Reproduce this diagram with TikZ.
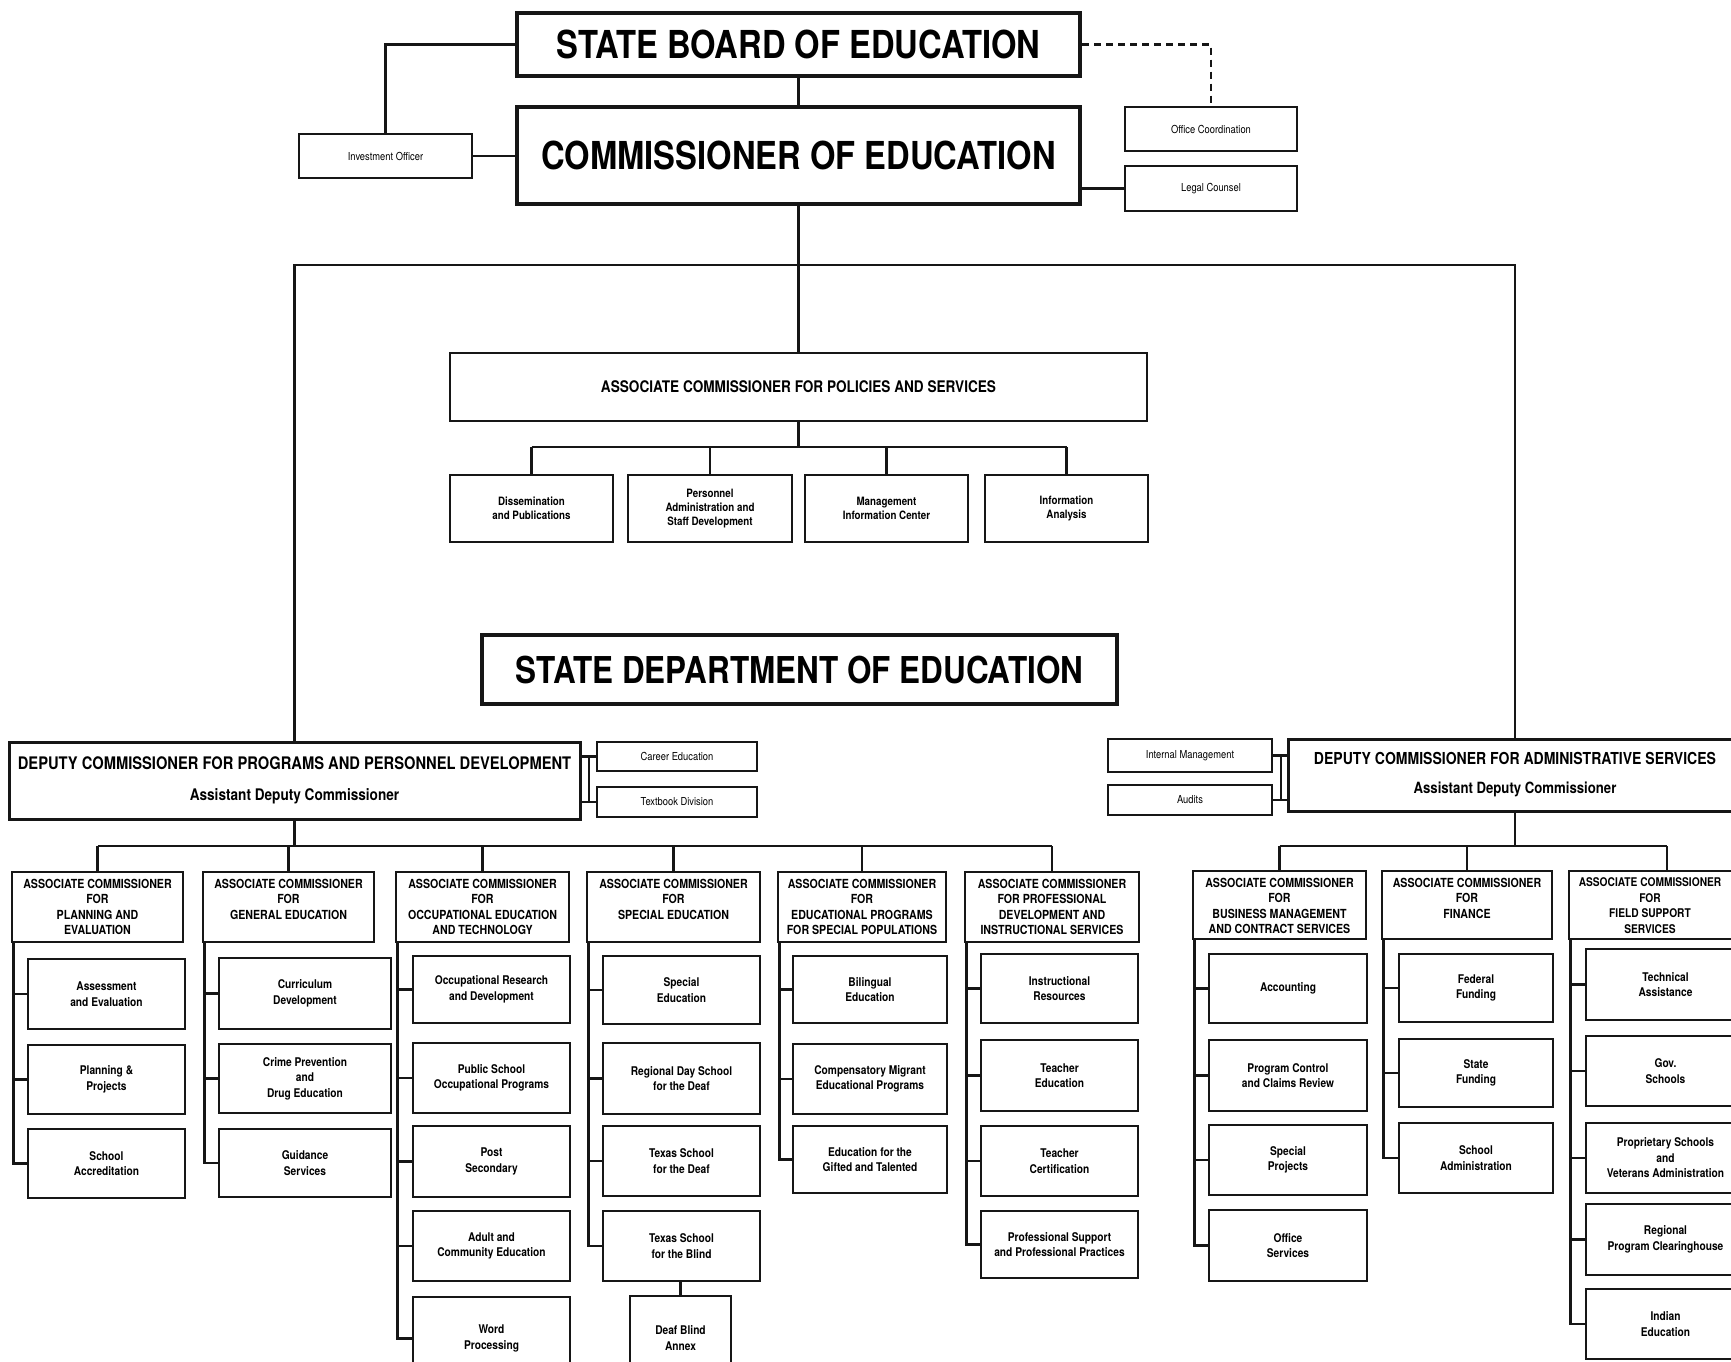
\documentclass[tikz,border=0pt]{standalone}
\usepackage{fontspec}
\setmainfont{TeX Gyre Heros}[FakeStretch=0.85]
\definecolor{ink}{RGB}{22,22,22}
\newcommand\fs[2]{\fontsize{#1}{#2}\selectfont}
% box from its corners: [style]{name}{x1}{y1}{x2}{y2}{text}
\newcommand\orgbox[7][]{\node[box,#1,minimum width={#5-#3},minimum height={#6-#4}] (#2) at ({(#3+#5)/2},{(#4+#6)/2}) {#7};}
% division header: [text options]{name}{x1}{x2}{y1}{y2}{text}, text set at the top
\newcommand\divhead[7][]{\orgbox{#2}{#3}{#5}{#4}{#6}{}\node[headtxt,anchor=north,#1] (#2t) at ([yshift=-8pt]#2.north) {#7};}
% rail down the left side of a column with a stub to each unit
\newcommand\rails[3]{%
  \path ([xshift=3pt]#1.south west) coordinate (#1r);
  \draw[conn] (#1r) -- (#1r |- #2.west) -- (#2.west);
  \foreach \c in {#3}{\draw[conn] (#1r |- \c.west) -- (\c.west);}}
\begin{document}
\begin{tikzpicture}[x=1pt,y=-1pt,
  box/.style={draw=ink, line width=2.8pt, rectangle, inner sep=1pt, align=center,
    font=\bfseries\fs{12}{15.5}},
  title/.style={line width=4pt, font=\bfseries\fs{38.5}{40}},
  side/.style={line width=2.4pt, font=\fs{11}{13}},
  unit/.style={font=\bfseries\fs{11.5}{14}},
  deputy/.style={line width=3pt},
  headtxt/.style={inner sep=0pt, align=center, font=\bfseries\fs{12.5}{15.5}},
  conn/.style={draw=ink, line width=2.6pt, line join=miter},
]
\useasboundingbox (0,0) rectangle (1731,1361);
\fill[white] (0,0) rectangle (1731,1361);
\clip (0,0) rectangle (1731,1361);

% ---- board and commissioner
\orgbox[title]{sb}{517}{13}{1080}{76}{STATE BOARD OF EDUCATION}
\orgbox[title]{com}{517}{107}{1080}{204}{COMMISSIONER OF EDUCATION}
\orgbox[side]{inv}{299}{134}{472}{178}{Investment Officer}
\orgbox[side]{ofc}{1125}{107}{1297}{151}{Office Coordination}
\orgbox[side]{legal}{1125}{166}{1297}{211}{Legal Counsel}
\draw[conn] (sb.west) -| (inv.north);
\draw[conn] (sb.south) -- (com.north);
\draw[conn] (com.west |- inv.east) -- (inv.east);
\draw[conn, dash pattern=on 7pt off 5pt] (sb.east) -| (ofc.north);
\draw[conn] (com.east |- legal.west) -- (legal.west);

% ---- policies and services
\orgbox[font=\bfseries\fs{16}{18}]{ps}{450}{353}{1147}{421}{ASSOCIATE COMMISSIONER FOR POLICIES AND SERVICES}
\orgbox[unit]{p1}{450}{475}{613}{542}{Dissemination\\and Publications}
\orgbox[unit]{p2}{628}{475}{792}{542}{Personnel\\Administration and\\Staff Development}
\orgbox[unit]{p3}{805}{475}{968}{542}{Management\\Information Center}
\orgbox[unit]{p4}{985}{475}{1148}{542}{Information\\Analysis}
\coordinate (pb) at (0,447);
\draw[conn] (ps.south) -- (ps.south |- pb);
\draw[conn] (p1.north |- pb) -- (p4.north |- pb);
\foreach \p in {p1,p2,p3,p4}{\draw[conn] (\p.north) -- (\p.north |- pb);}

\orgbox[title, font=\bfseries\fs{37}{40}]{sde}{482}{635}{1117}{704}{STATE DEPARTMENT OF EDUCATION}

% ---- deputy commissioners
\orgbox[deputy, font=\bfseries\fs{17.3}{31}]{dl}{9}{742}{580}{819}{DEPUTY COMMISSIONER FOR PROGRAMS AND PERSONNEL DEVELOPMENT\\{\fs{16}{31}Assistant Deputy Commissioner}}
\orgbox[deputy, font=\bfseries\fs{16.5}{29}]{rd}{1288}{739}{1742}{811}{DEPUTY COMMISSIONER FOR ADMINISTRATIVE SERVICES\\{\fs{15.5}{29}Assistant Deputy Commissioner}}
\orgbox[side]{ce}{597}{742}{757}{771}{Career Education}
\orgbox[side]{td}{597}{787}{757}{817}{Textbook Division}
\orgbox[side]{im}{1108}{739}{1272}{772}{Internal Management}
\orgbox[side]{au}{1108}{785}{1272}{815}{Audits}

\coordinate (tb) at (0,265);
\draw[conn] (com.south) -- (com.south |- tb);
\draw[conn] (ps.north) -- (ps.north |- tb);
\draw[conn] (dl.north) |- (rd.north |- tb) -- (rd.north);

\coordinate (lbar) at (589,0);
\draw[conn] (dl.east |- ce.west) -- (ce.west);
\draw[conn] (dl.east |- td.west) -- (td.west);
\draw[conn] (lbar |- ce.west) -- (lbar |- td.west);
\coordinate (rbar) at (1281,0);
\draw[conn] (im.east) -- (rd.west |- im.east);
\draw[conn] (au.east) -- (rd.west |- au.east);
\draw[conn] (rbar |- im.east) -- (rbar |- au.east);

% ---- division headers
\divhead{H1}{12}{183}{872}{942}{ASSOCIATE COMMISSIONER\\FOR\\PLANNING AND\\EVALUATION}
\divhead{H2}{203}{374}{872}{942}{ASSOCIATE COMMISSIONER\\FOR\\GENERAL EDUCATION}
\divhead{H3}{396}{569}{872}{942}{ASSOCIATE COMMISSIONER\\FOR\\OCCUPATIONAL EDUCATION\\AND TECHNOLOGY}
\divhead{H4}{587}{760}{872}{942}{ASSOCIATE COMMISSIONER\\FOR\\SPECIAL EDUCATION}
\divhead{H5}{778}{946}{872}{942}{ASSOCIATE COMMISSIONER\\FOR\\EDUCATIONAL PROGRAMS\\FOR SPECIAL POPULATIONS}
\divhead{H6}{965}{1139}{872}{942}{ASSOCIATE COMMISSIONER\\FOR PROFESSIONAL\\DEVELOPMENT AND\\INSTRUCTIONAL SERVICES}
\divhead{H7}{1193}{1366}{871}{939}{ASSOCIATE COMMISSIONER\\FOR\\BUSINESS MANAGEMENT\\AND CONTRACT SERVICES}
\divhead{H8}{1382}{1552}{871}{939}{ASSOCIATE COMMISSIONER\\FOR\\FINANCE}
\divhead[xshift=-17pt, font=\bfseries\fs{12}{15.5}]{H9}{1569}{1765}{871}{939}{ASSOCIATE COMMISSIONER\\FOR\\FIELD SUPPORT\\SERVICES}

\coordinate (bus) at (0,846);
\draw[conn] (dl.south) -- (dl.south |- bus);
\draw[conn] (H1.north |- bus) -- (H6.north |- bus);
\foreach \h in {H1,H2,H3,H4,H5,H6}{\draw[conn] (\h.north) -- (\h.north |- bus);}
\draw[conn] (rd.south) -- (rd.south |- bus);
\draw[conn] (H7.north |- bus) -- (H9.north |- bus);
\foreach \h in {H7,H8,H9}{\draw[conn] (\h.north) -- (\h.north |- bus);}

% ---- units
\orgbox{a1}{28}{959}{185}{1029}{Assessment\\and Evaluation}
\orgbox{a2}{28}{1045}{185}{1114}{Planning \&\\Projects}
\orgbox{a3}{28}{1129}{185}{1198}{School\\Accreditation}
\rails{H1}{a3}{a1,a2}

\orgbox{b1}{219}{958}{391}{1029}{Curriculum\\Development}
\orgbox{b2}{219}{1044}{391}{1113}{Crime Prevention\\and\\Drug Education}
\orgbox{b3}{219}{1129}{391}{1197}{Guidance\\Services}
\rails{H2}{b3}{b1,b2}

\orgbox{c1}{413}{956}{570}{1023}{Occupational Research\\and Development}
\orgbox{c2}{413}{1043}{570}{1113}{Public School\\Occupational Programs}
\orgbox{c3}{413}{1126}{570}{1197}{Post\\Secondary}
\orgbox{c4}{413}{1211}{570}{1281}{Adult and\\Community Education}
\orgbox{c5}{413}{1297}{570}{1380}{Word\\Processing}
\rails{H3}{c5}{c1,c2,c3,c4}

\orgbox{d1}{603}{956}{760}{1024}{Special\\Education}
\orgbox{d2}{603}{1043}{760}{1114}{Regional Day School\\for the Deaf}
\orgbox{d3}{603}{1126}{760}{1196}{Texas School\\for the Deaf}
\orgbox{d4}{603}{1211}{760}{1281}{Texas School\\for the Blind}
\orgbox{annex}{630}{1296}{731}{1380}{Deaf Blind\\Annex}
\rails{H4}{d4}{d1,d2,d3}
\draw[conn] (annex.north) -- (annex.north |- d4.south);

\orgbox{e1}{793}{956}{947}{1023}{Bilingual\\Education}
\orgbox{e2}{793}{1044}{947}{1114}{Compensatory Migrant\\Educational Programs}
\orgbox{e3}{793}{1126}{947}{1193}{Education for the\\Gifted and Talented}
\rails{H5}{e3}{e1,e2}

\orgbox{f1}{981}{954}{1138}{1023}{Instructional\\Resources}
\orgbox{f2}{981}{1040}{1138}{1111}{Teacher\\Education}
\orgbox{f3}{981}{1126}{1138}{1196}{Teacher\\Certification}
\orgbox{f4}{981}{1211}{1138}{1278}{Professional Support\\and Professional Practices}
\rails{H6}{f4}{f1,f2,f3}

\orgbox{g1}{1209}{954}{1367}{1023}{Accounting}
\orgbox{g2}{1209}{1040}{1367}{1111}{Program Control\\and Claims Review}
\orgbox{g3}{1209}{1125}{1367}{1195}{Special\\Projects}
\orgbox{g4}{1209}{1210}{1367}{1281}{Office\\Services}
\rails{H7}{g4}{g1,g2,g3}

\orgbox{k1}{1399}{954}{1553}{1022}{Federal\\Funding}
\orgbox{k2}{1399}{1039}{1553}{1107}{State\\Funding}
\orgbox{k3}{1399}{1123}{1553}{1193}{School\\Administration}
\rails{H8}{k3}{k1,k2}

\orgbox{i1}{1586}{949}{1745}{1020}{Technical\\Assistance}
\orgbox{i2}{1586}{1036}{1745}{1106}{Gov.\\Schools}
\orgbox{i3}{1586}{1123}{1745}{1193}{Proprietary Schools\\and\\Veterans Administration}
\orgbox{i4}{1586}{1204}{1745}{1275}{Regional\\Program Clearinghouse}
\orgbox{i5}{1586}{1289}{1745}{1359}{Indian\\Education}
\rails{H9}{i5}{i1,i2,i3,i4}
\end{tikzpicture}
\end{document}
